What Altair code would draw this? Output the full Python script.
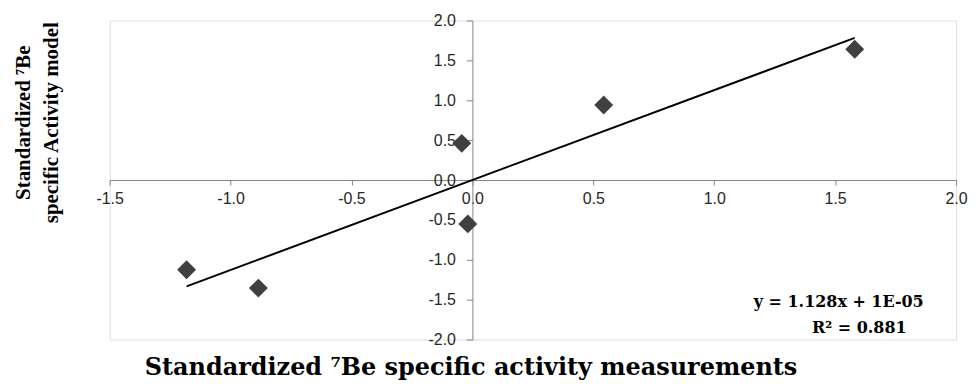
import altair as alt
import pandas as pd

# Data
x_meas = [-1.182, -0.885, -0.044, -0.019, 0.543, 1.581]
y_model = [-1.125, -1.355, 0.46, -0.55, 0.94, 1.64]
slope = 1.128
intercept = 1e-05
eq_lines = ["y = 1.128x + 1E-05", "R² = 0.881"]
eq_x = [1.515, 1.60]
eq_y = [-1.53, -1.86]
x_ticks = [-1.5, -1.0, -0.5, 0.0, 0.5, 1.0, 1.5, 2.0]
y_ticks = [-2.0, -1.5, -1.0, -0.5, 0.0, 0.5, 1.0, 1.5, 2.0]
x_dom = [-1.5, 2.0]
y_dom = [-2.0, 2.0]

W, H = 849, 320
x_off = -W * (0 - x_dom[0]) / (x_dom[1] - x_dom[0])
y_off = -H * (y_dom[1] - 0) / (y_dom[1] - y_dom[0])

pts = pd.DataFrame({"x": x_meas, "y": y_model})
trend = pd.DataFrame({"x": [min(x_meas), max(x_meas)]})
trend["y"] = slope * trend["x"] + intercept
eq = pd.DataFrame({"x": eq_x, "y": eq_y, "t": eq_lines})

GRAY = "#868686"
LABEL_EXPR = "replace(format(datum.value, '.1f'), '\u2212', '-')"
xscale = alt.Scale(domain=x_dom, nice=False, zero=False)
yscale = alt.Scale(domain=y_dom, nice=False, zero=False)

xaxis = alt.Axis(
    orient="bottom", offset=y_off, values=x_ticks, labelExpr=LABEL_EXPR, grid=False,
    domainColor=GRAY, tickColor=GRAY, tickSize=5, labelFont="Liberation Sans",
    labelFontSize=16, labelColor="#262626", labelPadding=6, labelOverlap=False,
    labelFlush=False,
    title="Standardized ⁷Be specific activity measurements",
    titleFont="DejaVu Serif", titleFontSize=24, titleFontWeight="bold",
    titleColor="#000000", titleX=362, titleY=195.5, titleBaseline="alphabetic",
    titleAlign="center",
)
yaxis = alt.Axis(
    orient="left", offset=x_off, values=y_ticks, labelExpr=LABEL_EXPR, grid=False,
    domainColor=GRAY, tickColor=GRAY, tickSize=6, labelFont="Liberation Sans",
    labelFontSize=16, labelColor="#262626", labelPadding=11, labelOverlap=False,
    labelFlush=False,
    title=["Standardized ⁷Be", "specific Activity model"],
    titleFont="Liberation Serif", titleFontSize=21, titleFontWeight="bold",
    titleColor="#000000", titleX=-450, titleY=102, titleBaseline="middle",
    titleAlign="center", titleAngle=270, titleLineHeight=28,
)

X = alt.X("x:Q", scale=xscale, axis=xaxis)
Y = alt.Y("y:Q", scale=yscale, axis=yaxis)

base_pts = alt.Chart(pts).mark_point(
    shape="diamond", filled=True, size=360, color="#404040", opacity=1
).encode(x=X, y=Y)

line = alt.Chart(trend).mark_line(color="#000000", strokeWidth=2).encode(x=X, y=Y)

txt = alt.Chart(eq).mark_text(
    font="DejaVu Serif", fontSize=16, fontWeight="bold", color="#000000",
    align="center", baseline="middle"
).encode(x=X, y=Y, text="t:N")

chart = alt.layer(line, base_pts, txt).properties(
    width=W, height=H,
    padding={"left": 102, "top": 12, "right": 12, "bottom": 42},
    autosize=alt.AutoSizeParams(type="none"),
).configure_view(stroke=None).configure(background="white")

chart.save("out.html", embed_options={"renderer": "svg", "actions": False})
